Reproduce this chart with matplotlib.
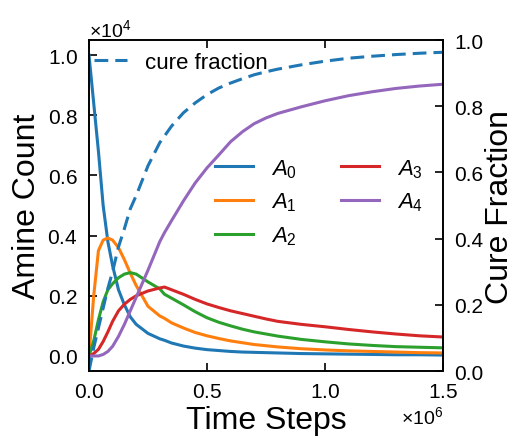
import matplotlib
matplotlib.use("Agg")
import matplotlib.pyplot as plt
import numpy as np

plt.rcParams["font.family"] = ["Liberation Sans", "DejaVu Sans"]
plt.rcParams["mathtext.fontset"] = "custom"
plt.rcParams["mathtext.rm"] = "Liberation Sans"
plt.rcParams["mathtext.it"] = "Liberation Sans:italic"

# ====== DATA ======
N_TOTAL = 1e4
time_steps = np.array([0, 0.02, 0.04, 0.06, 0.08, 0.10, 0.125, 0.15, 0.175, 0.20,
                       0.25, 0.30, 0.32, 0.35, 0.40, 0.45, 0.50, 0.55, 0.60, 0.65,
                       0.70, 0.75, 0.80, 0.90, 1.00, 1.10, 1.20, 1.30, 1.40, 1.50]) * 1e6

# amine populations as fraction of N_TOTAL
a0 = [1.00, 0.84, 0.68, 0.50, 0.38, 0.30, 0.22, 0.17, 0.13, 0.105,
      0.075, 0.057, 0.052, 0.043, 0.033, 0.026, 0.021, 0.018, 0.015, 0.013,
      0.012, 0.011, 0.010, 0.008, 0.007, 0.006, 0.005, 0.004, 0.004, 0.003]
a1 = [0.00, 0.20, 0.35, 0.385, 0.392, 0.385, 0.36, 0.32, 0.275, 0.234,
      0.165, 0.133, 0.125, 0.110, 0.093, 0.078, 0.067, 0.058, 0.050, 0.044,
      0.038, 0.034, 0.030, 0.024, 0.020, 0.017, 0.015, 0.013, 0.011, 0.010]
a2 = [0.00, 0.05, 0.12, 0.18, 0.22, 0.24, 0.26, 0.272, 0.277, 0.272,
      0.246, 0.223, 0.205, 0.192, 0.170, 0.147, 0.127, 0.112, 0.100, 0.089,
      0.080, 0.073, 0.066, 0.055, 0.047, 0.040, 0.035, 0.031, 0.029, 0.027]
a3 = [0.00, 0.008, 0.022, 0.048, 0.080, 0.115, 0.150, 0.172, 0.188, 0.200,
      0.216, 0.226, 0.229, 0.220, 0.205, 0.188, 0.173, 0.161, 0.150, 0.141,
      0.132, 0.123, 0.115, 0.105, 0.097, 0.088, 0.080, 0.073, 0.067, 0.063]
a4 = [0.00, 0.00, 0.00, 0.005, 0.015, 0.032, 0.065, 0.105, 0.150, 0.195,
      0.285, 0.380, 0.410, 0.450, 0.515, 0.575, 0.625, 0.668, 0.712, 0.745,
      0.772, 0.791, 0.806, 0.828, 0.848, 0.865, 0.878, 0.889, 0.897, 0.903]
cure = [0.00, 0.07, 0.13, 0.19, 0.25, 0.30, 0.375, 0.43, 0.49, 0.53,
        0.62, 0.69, 0.71, 0.74, 0.78, 0.81, 0.835, 0.855, 0.87, 0.883,
        0.895, 0.904, 0.912, 0.925, 0.936, 0.945, 0.951, 0.956, 0.960, 0.963]

labels = [r"$A_0$", r"$A_1$", r"$A_2$", r"$A_3$", r"$A_4$"]
# ===========================================

fig, ax = plt.subplots(figsize=(5.18, 4.39), dpi=100)
fig.subplots_adjust(left=0.1718, right=0.8552, top=0.9066, bottom=0.1526)
ax2 = ax.twinx()

colors = ["C0", "C1", "C2", "C3", "C4"]
lines = []
for series, lb, c in zip([a0, a1, a2, a3, a4], labels, colors):
    ln, = ax.plot(time_steps, np.array(series) * N_TOTAL, color=c, lw=2.2, label=lb)
    lines.append(ln)

cl, = ax2.plot(time_steps, cure, color="C0", lw=2.2, ls=(0, (4.5, 2.3)), label="cure fraction")

ax.set_xlim(0, 1.5e6)
ax.set_ylim(-0.05 * N_TOTAL, 1.05 * N_TOTAL)
ax2.set_ylim(0, 1)
ax.set_xticks([0, 0.5e6, 1.0e6, 1.5e6])
ax.set_yticks(np.arange(0, 1.01, 0.2) * N_TOTAL)
ax2.set_yticks(np.arange(0, 1.01, 0.2))
ax2.set_yticklabels([f"{v:.1f}" for v in np.arange(0, 1.01, 0.2)])

ax.ticklabel_format(style="sci", axis="both", scilimits=(0, 0), useMathText=True)
ax.yaxis.get_offset_text().set_fontsize(14)
ax.xaxis.get_offset_text().set_fontsize(14)

for a in (ax, ax2):
    a.tick_params(direction="in", length=6, width=1.2, labelsize=15, pad=8)
    for sp in a.spines.values():
        sp.set_linewidth(1.2)
ax.tick_params(top=True)

ax.set_xlabel("Time Steps", fontsize=23, labelpad=3)
ax.set_ylabel("Amine Count", fontsize=23, labelpad=4)
ax2.set_ylabel("Cure Fraction", fontsize=23, labelpad=1)

ax.legend(handles=lines, loc="center right", ncol=2, frameon=False,
          fontsize=16, handlelength=1.7, columnspacing=2.0, labelspacing=0.5,
          bbox_to_anchor=(1.0, 0.51))
ax2.legend(handles=[cl], loc="upper left", frameon=False, fontsize=16,
           handlelength=1.5, bbox_to_anchor=(-0.02, 1.0), borderaxespad=0.15)

fig.savefig("out.png", dpi=100)
